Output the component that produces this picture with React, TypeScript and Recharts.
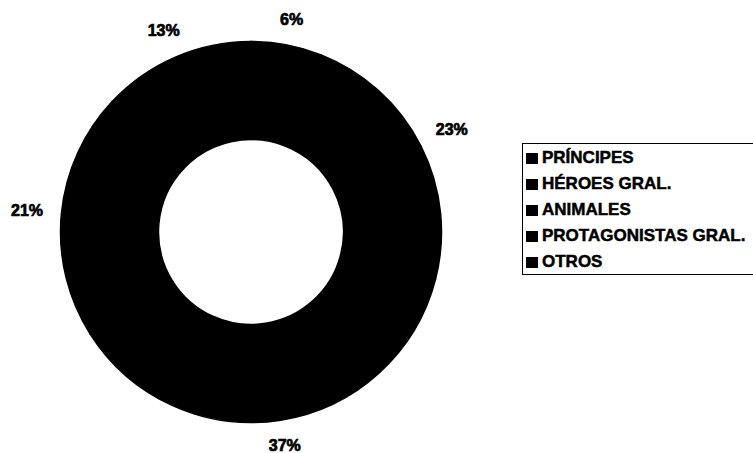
import React from "react";
import { PieChart, Pie, Cell, Legend } from "recharts";

const categories = ["PRÍNCIPES", "HÉROES GRAL.", "ANIMALES", "PROTAGONISTAS GRAL.", "OTROS"];
const percents = [6, 23, 37, 21, 13];

const data = categories.map((name, i) => ({ name, value: percents[i] }));

const RAD = Math.PI / 180;

const renderLabel = (props: any) => {
  const { cx, cy, midAngle, outerRadius, value } = props;
  const c = Math.cos(-midAngle * RAD);
  const s = Math.sin(-midAngle * RAD);
  const hw = 17;
  const hh = 6;
  const r = outerRadius + 17 + Math.abs(c) * hw + Math.abs(s) * hh;
  const x = cx + r * c;
  const y = cy + r * s;
  return (
    <text
      x={x}
      y={y}
      textAnchor="middle"
      dominantBaseline="central"
      fill="#000"
      stroke="#000"
      strokeWidth={0.7}
      fontFamily="'Liberation Sans', Arial, sans-serif"
      fontWeight="bold"
      fontSize={16}
    >
      {`${value}%`}
    </text>
  );
};

const renderLegend = () => (
  <div
    style={{
      boxSizing: "border-box",
      width: 231,
      height: 132,
      border: "1.5px solid #000",
      borderRight: "none",
      paddingTop: 1,
      paddingLeft: 3,
      fontFamily: "'Liberation Sans', Arial, sans-serif",
      fontWeight: "bold",
      fontSize: 17,
      color: "#000",
      WebkitTextStroke: "0.5px #000",
    }}
  >
    {categories.map((name) => (
      <div key={name} style={{ height: 26, display: "flex", alignItems: "center" }}>
        <span
          style={{
            display: "inline-block",
            width: 12,
            height: 11,
            background: "#000",
            marginRight: 4,
          }}
        />
        <span style={{ whiteSpace: "nowrap", lineHeight: "26px" }}>{name}</span>
      </div>
    ))}
  </div>
);

export default function App() {
  return (
    <div style={{ position: "absolute", left: 0, top: 0, width: 753, height: 453, background: "#fff" }}>
      <PieChart width={753} height={453} margin={{ top: 0, right: 0, bottom: 0, left: 0 }}>
        <Pie
          data={data}
          dataKey="value"
          nameKey="name"
          cx={251}
          cy={232}
          innerRadius={92.5}
          outerRadius={190.5}
          startAngle={90}
          endAngle={-270}
          stroke="#000"
          strokeWidth={1.5}
          label={renderLabel}
          labelLine={false}
          isAnimationActive={false}
        >
          {data.map((d) => (
            <Cell key={d.name} fill="#000" />
          ))}
        </Pie>
        <Legend
          layout="vertical"
          align="right"
          verticalAlign="top"
          content={renderLegend}
          wrapperStyle={{ position: "absolute", left: 522, top: 143, width: 231, height: 132 }}
        />
      </PieChart>
    </div>
  );
}
